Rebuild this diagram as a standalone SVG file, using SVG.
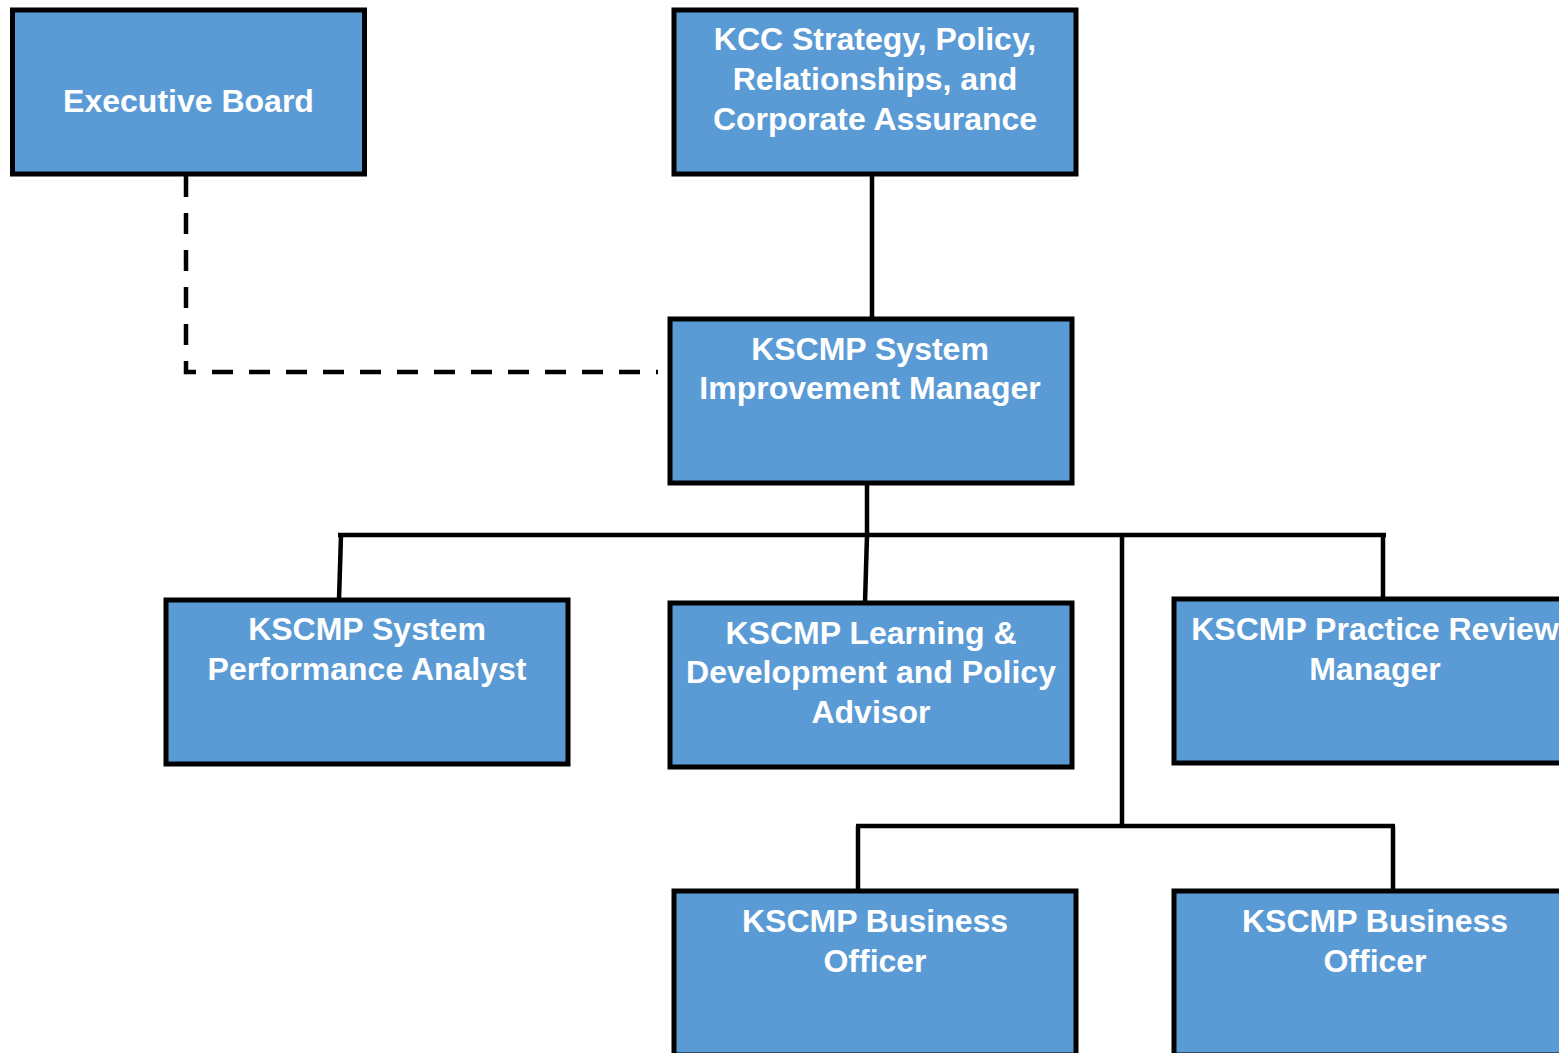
<svg xmlns="http://www.w3.org/2000/svg" width="1559" height="1053" viewBox="0 0 1559 1053">
<style>
.box{fill:#5B9BD5;stroke:#000;stroke-width:5}
.t{font-family:"Liberation Sans",Arial,sans-serif;font-weight:bold;font-size:32px;fill:#fff;text-anchor:middle}
.c{fill:none;stroke:#000;stroke-width:4.5}
.d{fill:none;stroke:#000;stroke-width:4.5;stroke-dasharray:21 16}
</style>
<rect width="1559" height="1053" fill="#fff"/>
<g id="connectors">
<path class="d" d="M186 176 V372 H658"/>
<path class="c" d="M872 176 V319"/>
<path class="c" d="M867 484 V535"/>
<path class="c" d="M338 535 H1386"/>
<path class="c" d="M341 535 L339 600"/>
<path class="c" d="M867 535 L865 603"/>
<path class="c" d="M1383 535 V599"/>
<path class="c" d="M1122 533 V826"/>
<path class="c" d="M856 826 H1395"/>
<path class="c" d="M858 826 V891"/>
<path class="c" d="M1393 826 V891"/>
</g>
<g id="executive-board">
<rect class="box" x="12.5" y="10" width="352" height="164"/>
<text class="t" x="188.5" y="112">Executive Board</text>
</g>
<g id="kcc">
<rect class="box" x="674" y="10" width="402" height="164"/>
<text class="t" x="875" y="50">KCC Strategy, Policy,</text>
<text class="t" x="875" y="90">Relationships, and</text>
<text class="t" x="875" y="130">Corporate Assurance</text>
</g>
<g id="system-improvement-manager">
<rect class="box" x="670" y="319" width="402" height="164"/>
<text class="t" x="870" y="360">KSCMP System</text>
<text class="t" x="870" y="399">Improvement Manager</text>
</g>
<g id="system-performance-analyst">
<rect class="box" x="166" y="600" width="402" height="164"/>
<text class="t" x="367" y="640">KSCMP System</text>
<text class="t" x="367" y="680">Performance Analyst</text>
</g>
<g id="learning-development">
<rect class="box" x="670" y="603" width="402" height="164"/>
<text class="t" x="871" y="644">KSCMP Learning &amp;</text>
<text class="t" x="871" y="683">Development and Policy</text>
<text class="t" x="871" y="723">Advisor</text>
</g>
<g id="practice-review-manager">
<rect class="box" x="1174" y="599" width="402" height="164"/>
<text class="t" x="1375" y="640">KSCMP Practice Review</text>
<text class="t" x="1375" y="680">Manager</text>
</g>
<g id="business-officer-1">
<rect class="box" x="674" y="891" width="402" height="164"/>
<text class="t" x="875" y="932">KSCMP Business</text>
<text class="t" x="875" y="972">Officer</text>
</g>
<g id="business-officer-2">
<rect class="box" x="1174" y="891" width="402" height="164"/>
<text class="t" x="1375" y="932">KSCMP Business</text>
<text class="t" x="1375" y="972">Officer</text>
</g>
</svg>
